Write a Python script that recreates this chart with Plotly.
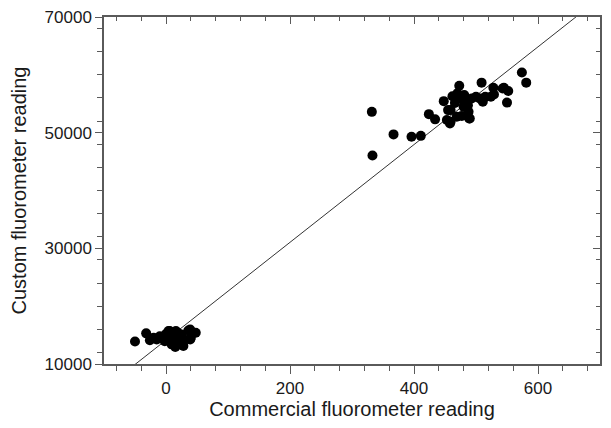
import plotly.graph_objects as go

# Readings (commercial vs custom fluorometer)
low_commercial = [-50, -32, -26, -15, -5, 0, 6, 5, 9, 15, 18, 23, 25, 28, 36, 39, 44, 48,
                  13, -2, 16, -20, 4, 39, 40, 15, 10, 30, 20, -10]
low_custom = [13900, 15300, 14100, 14250, 14650, 15200, 15700, 14100, 13400, 12950, 14850,
              13650, 15100, 13100, 15800, 14250, 15400, 15400, 14500, 13950, 15700, 14550,
              15700, 15950, 14500, 13400, 14900, 14200, 15300, 14800]

high_commercial = [332, 333, 367, 396, 411, 424, 434, 448, 453, 459, 459, 462, 469, 473, 474,
                   481, 483, 488, 489, 493, 500, 509, 511, 515, 524, 528, 529, 545, 552, 550,
                   574, 581, 477, 485, 506, 543, 455, 458, 477, 490, 487, 480, 466, 470]
high_custom = [53600, 46050, 49700, 49300, 49450, 53200, 52300, 55450, 52200, 51900, 53900,
               56300, 52750, 58100, 55900, 56500, 55050, 53600, 52450, 55900, 56200, 58650,
               55350, 56200, 56200, 57750, 56600, 57750, 57200, 55200, 60400, 58650, 56200,
               55750, 55900, 57650, 53900, 51600, 52900, 52450, 54750, 54500, 55150, 56800]

# Fitted line through the data
fit_slope = 84.5
fit_intercept = 14140
x_range = [-100, 700]
y_range = [10000, 70000]

FONT = "Arial, Liberation Sans, sans-serif"
AXIS_GRAY = "#5a5a5a"

fig = go.Figure()

line_x = list(x_range)
line_y = [fit_intercept + fit_slope * v for v in line_x]
fig.add_trace(go.Scatter(x=line_x, y=line_y, mode="lines",
                         line=dict(color="#333333", width=1), showlegend=False,
                         hoverinfo="skip"))

fig.add_trace(go.Scatter(x=low_commercial + high_commercial, y=low_custom + high_custom,
                         mode="markers", marker=dict(size=10, color="black"),
                         showlegend=False))

# page body has an 8px margin, so the figure is a bit smaller than the window
fig.update_layout(
    width=595, height=412,
    margin=dict(l=96, r=3, t=9, b=56),
    paper_bgcolor="white", plot_bgcolor="white",
    font=dict(family=FONT, size=17, color="#1a1a1a"),
    xaxis=dict(range=x_range, tick0=0, dtick=200, ticks="outside", ticklen=8,
               tickwidth=1.2, tickcolor=AXIS_GRAY, showline=True, linecolor=AXIS_GRAY,
               linewidth=1.5, showgrid=False, zeroline=False, automargin=False,
               ticklabeloverflow="allow",
               minor=dict(dtick=40, ticks="outside", ticklen=5, tickwidth=1.2,
                          tickcolor=AXIS_GRAY, showgrid=False),
               title=dict(text="Commercial fluorometer reading", standoff=10)),
    yaxis=dict(range=y_range, tick0=10000, dtick=20000, tickformat="d", ticks="outside",
               ticklen=7, tickwidth=1.2, tickcolor=AXIS_GRAY, showline=True,
               linecolor=AXIS_GRAY, linewidth=1.5, showgrid=False, zeroline=False,
               automargin=False, ticklabeloverflow="allow",
               minor=dict(dtick=4000, ticks="outside", ticklen=5, tickwidth=1.2,
                          tickcolor=AXIS_GRAY, showgrid=False),
               title=dict(text="Custom fluorometer reading", standoff=21)),
    xaxis2=dict(range=x_range, overlaying="x", side="top", anchor="y", tick0=0, dtick=200,
                ticks="inside", ticklen=7, tickwidth=1.2, tickcolor=AXIS_GRAY,
                showticklabels=False, showline=True, linecolor=AXIS_GRAY, linewidth=1.5,
                showgrid=False, zeroline=False, automargin=False,
                minor=dict(dtick=40, ticks="inside", ticklen=4, tickwidth=1.2,
                           tickcolor=AXIS_GRAY, showgrid=False)),
    yaxis2=dict(range=y_range, overlaying="y", side="right", anchor="x", tick0=10000,
                dtick=20000, ticks="inside", ticklen=7, tickwidth=1.2, tickcolor=AXIS_GRAY,
                showticklabels=False, showline=True, linecolor=AXIS_GRAY, linewidth=1.5,
                showgrid=False, zeroline=False, automargin=False,
                minor=dict(dtick=4000, ticks="inside", ticklen=4, tickwidth=1.2,
                           tickcolor=AXIS_GRAY, showgrid=False)),
)

# invisible trace so the mirrored frame axes are drawn
fig.add_trace(go.Scatter(x=[None], y=[None], xaxis="x2", yaxis="y2", showlegend=False,
                         hoverinfo="skip"))

fig.write_html("out.html")
